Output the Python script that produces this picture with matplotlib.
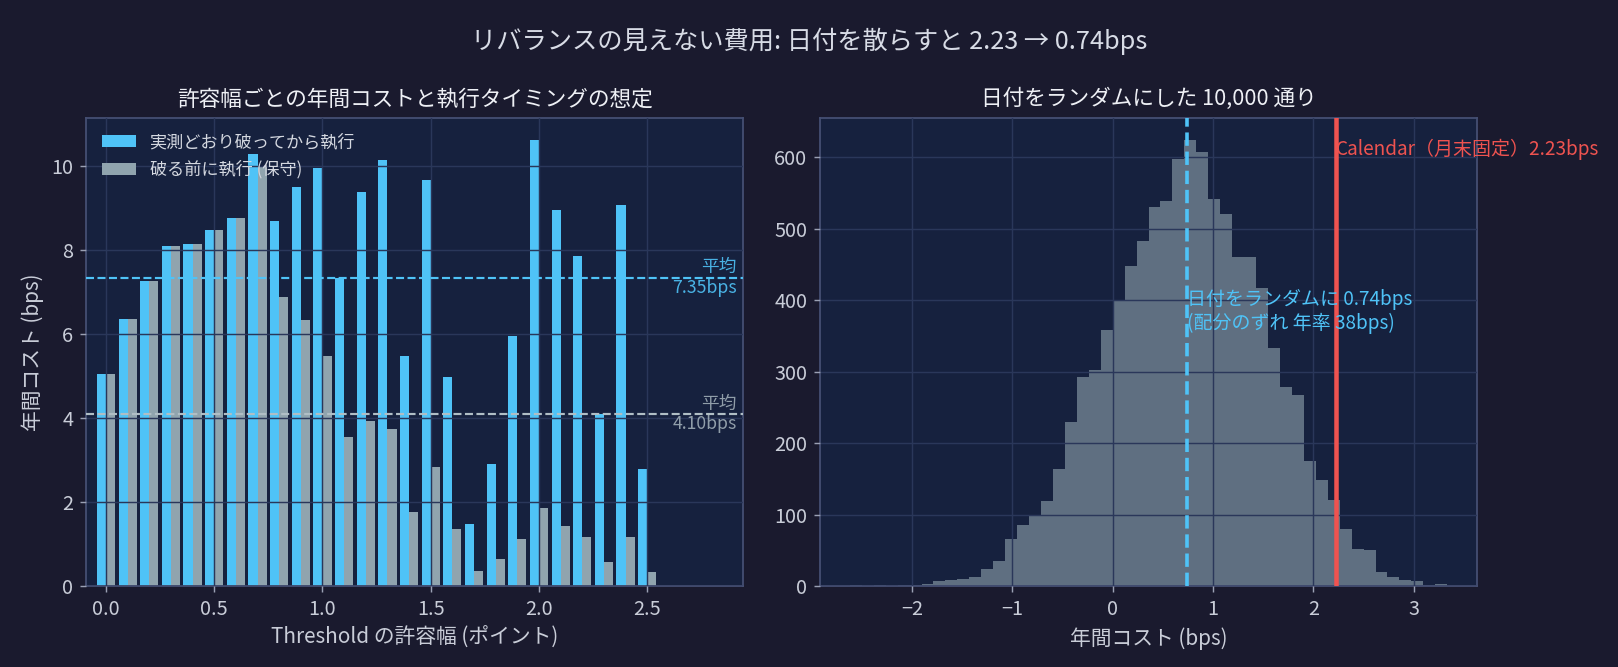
import numpy as np
import matplotlib
matplotlib.use("Agg")
import matplotlib.pyplot as plt
import matplotlib.transforms as mtransforms

plt.rcParams['font.family'] = ['Noto Sans CJK JP', 'DejaVu Sans']
plt.rcParams['axes.unicode_minus'] = True

# ---------------- data ----------------
thresholds = [0.0, 0.1, 0.2, 0.3, 0.4, 0.5, 0.6, 0.7, 0.8, 0.9, 1.0, 1.1, 1.2,
              1.3, 1.4, 1.5, 1.6, 1.7, 1.8, 1.9, 2.0, 2.1, 2.2, 2.3, 2.4, 2.5]
cost_actual = [5.05, 6.37, 7.26, 8.10, 8.14, 8.48, 8.76, 10.29, 8.69, 9.52, 9.97,
               7.34, 9.38, 10.14, 5.48, 9.67, 4.98, 1.48, 2.90, 5.95, 10.62, 8.95,
               7.87, 4.11, 9.07, 2.80]
cost_before = [5.05, 6.37, 7.26, 8.10, 8.14, 8.48, 8.76, 9.98, 6.88, 6.33, 5.48,
               3.55, 3.93, 3.74, 1.77, 2.83, 1.36, 0.36, 0.64, 1.12, 1.87, 1.44,
               1.17, 0.58, 1.17, 0.34]
mean_actual = 7.35
mean_before = 4.10

hist_start = -2.62
hist_width = 0.1191
hist_counts = [1, 0, 1, 0, 1, 2,
               3, 7, 9, 10, 12, 24, 35, 66, 85, 99,
               119, 164, 229, 293, 303, 358, 399, 448, 483, 531,
               539, 598, 624, 607, 542, 521, 461, 460, 417, 333,
               279, 268, 175, 149, 120, 80, 52, 50, 20, 13,
               9, 7, 2, 3]
random_cost = 0.74
calendar_cost = 2.23

legend_labels = ['実測どおり破ってから執行', '破る前に執行 (保守)']
suptitle = 'リバランスの見えない費用: 日付を散らすと 2.23 → 0.74bps'
title_left = '許容幅ごとの年間コストと執行タイミングの想定'
title_right = '日付をランダムにした 10,000 通り'

# ---------------- style ----------------
FIG_BG = '#1a1a2e'
AX_BG = '#16213e'
SPINE = '#454f73'
GRID = '#2a375a'
TXT = '#c9cdd8'
BLUE = '#4fc3f7'
GRAY = '#90a4ae'
GRAY_LINE = '#b0bec5'
RED = '#ef5350'

DPI = 130
fig = plt.figure(figsize=(1618 / DPI, 667 / DPI), dpi=DPI, facecolor=FIG_BG)
ax1 = fig.add_axes([0.0532, 0.1214, 0.4062, 0.7016])
ax2 = fig.add_axes([0.5068, 0.1214, 0.4061, 0.7016])

for ax in (ax1, ax2):
    ax.set_facecolor(AX_BG)
    for s in ax.spines.values():
        s.set_color(SPINE)
        s.set_linewidth(1.0)
    ax.tick_params(colors='#9aa0b4', labelcolor=TXT, labelsize=11)
    ax.grid(True, color=GRID, linewidth=0.8)
    ax.set_axisbelow(False)

# ---------------- left ----------------
th = np.array(thresholds)
bw = 0.042
ax1.bar(th - bw / 2, cost_actual, width=bw, color=BLUE, linewidth=0, label=legend_labels[0])
ax1.bar(th + bw / 2, cost_before, width=bw, color=GRAY, linewidth=0, label=legend_labels[1])
ax1.axhline(mean_actual, color=BLUE, linestyle='--', linewidth=1.2, zorder=3)
ax1.axhline(mean_before, color=GRAY_LINE, linestyle='--', linewidth=1.2, zorder=3)
trans = mtransforms.blended_transform_factory(ax1.transAxes, ax1.transData)
ax1.text(0.99, mean_actual, f'平均\n{mean_actual:.2f}bps', transform=trans, ha='right',
         va='center', color=BLUE, fontsize=9.8, alpha=0.9)
ax1.text(0.99, mean_before, f'平均\n{mean_before:.2f}bps', transform=trans, ha='right',
         va='center', color=GRAY_LINE, fontsize=9.8, alpha=0.8)
ax1.set_xlim(-0.092, 2.944)
ax1.set_title(title_left, color='#eef0f5', fontsize=12, pad=7)
ax1.set_xlabel('Threshold の許容幅 (ポイント)', color=TXT, fontsize=11.5)
ax1.set_ylabel('年間コスト (bps)', color=TXT, fontsize=11.5)
leg = ax1.legend(loc='upper left', frameon=False, fontsize=9.5)
for t in leg.get_texts():
    t.set_color('#d4d8e0')

# ---------------- right ----------------
counts = np.array(hist_counts)
edges = hist_start + hist_width * np.arange(len(counts) + 1)
ax2.bar(edges[:-1], counts, width=np.diff(edges), align='edge', color=GRAY,
        alpha=0.6, linewidth=0)
ax2.axvline(random_cost, color=BLUE, linestyle='--', linewidth=2, zorder=3)
ax2.axvline(calendar_cost, color=RED, linestyle='-', linewidth=2.5, zorder=3)
ax2.text(calendar_cost, 611, f'Calendar（月末固定）{calendar_cost:.2f}bps', color=RED,
         fontsize=10.5, ha='left', va='center', clip_on=False)
ax2.text(random_cost, 384, f'日付をランダムに {random_cost:.2f}bps\n(配分のずれ 年率 38bps)',
         color=BLUE, fontsize=10.5, ha='left', va='center')
ax2.set_title(title_right, color='#eef0f5', fontsize=12, pad=7)
ax2.set_xlabel('年間コスト (bps)', color=TXT, fontsize=11.5)

fig.suptitle(suptitle, color='#d8dce6', fontsize=14, y=0.958)

fig.savefig('out.png', dpi=DPI, facecolor=FIG_BG)
